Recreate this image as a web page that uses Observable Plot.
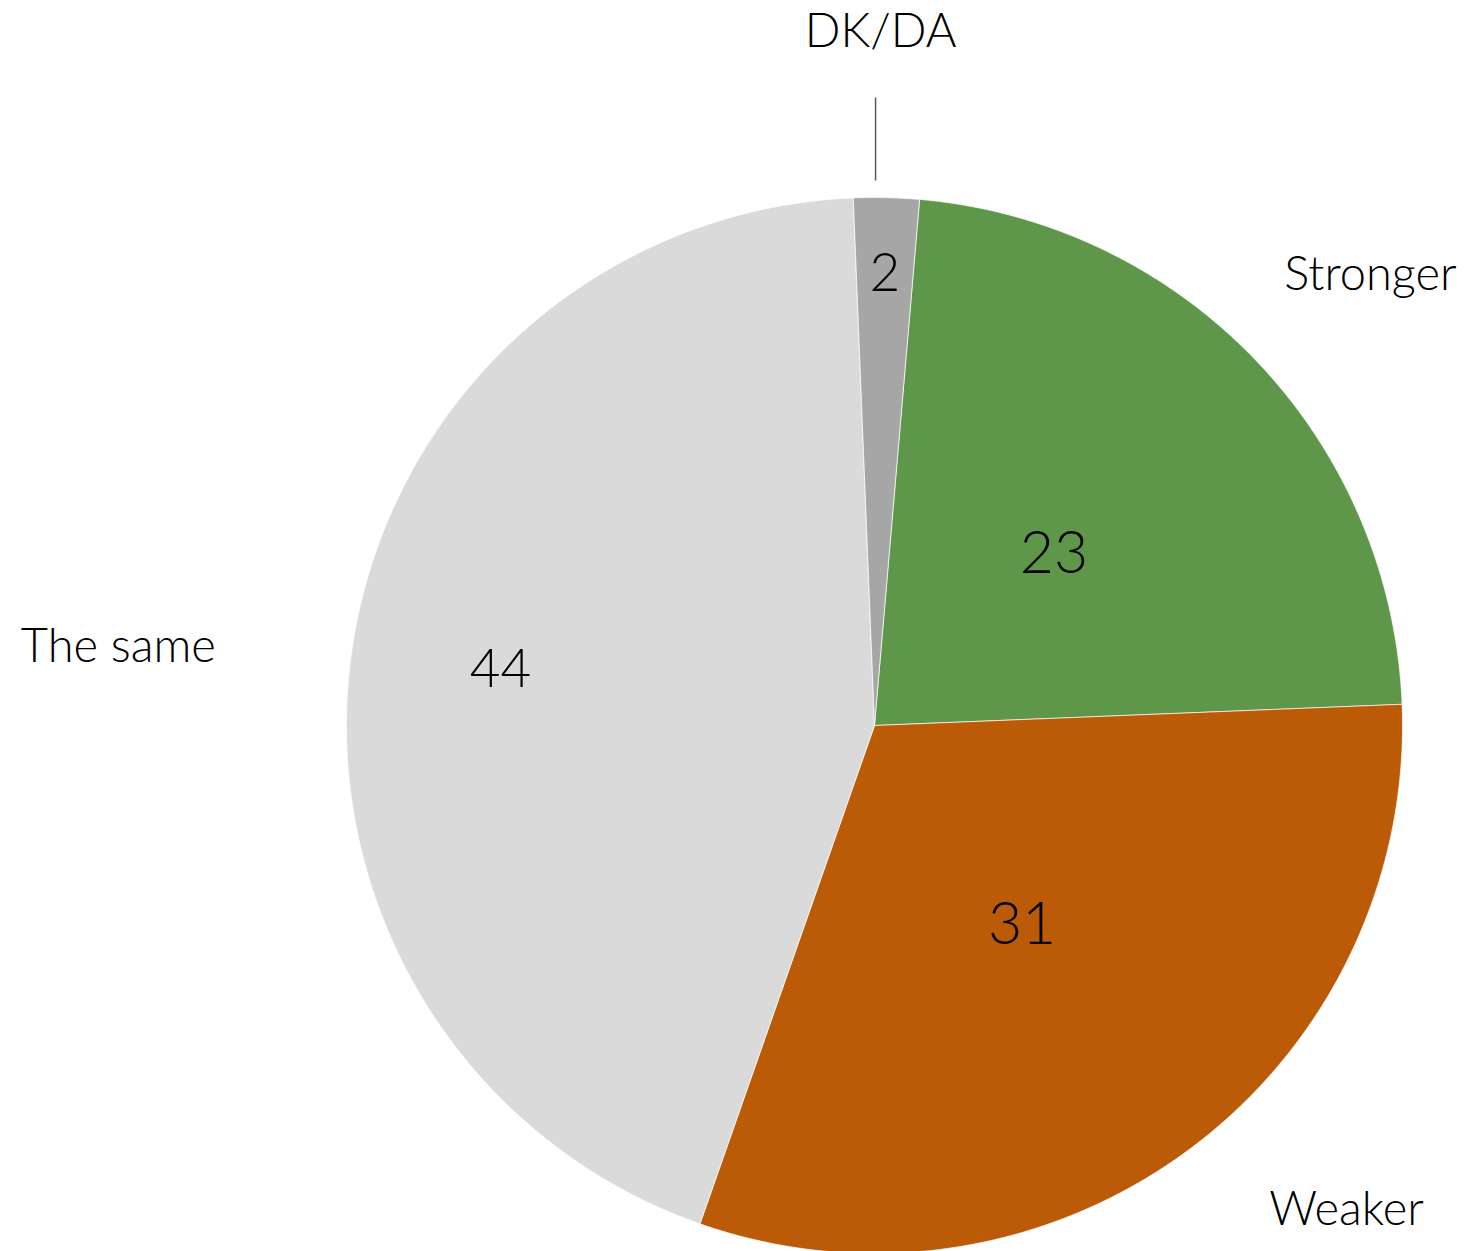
<!DOCTYPE html>
<html>
<head>
<meta charset="utf-8">
<script src="https://cdn.jsdelivr.net/npm/d3@7"></script>
<script src="https://cdn.jsdelivr.net/npm/@observablehq/plot@0.6"></script>
<style>
  html, body { margin: 0; padding: 0; background: #fff; }
  #chart svg { display: block; }
</style>
</head>
<body>
<div id="chart"></div>
<script>
// ---- data ----
const categories = ["Stronger", "Weaker", "The same", "DK/DA"];
const values = [23, 31, 44, 2];
const colors = ["#5f974a", "#bb5a07", "#dadada", "#a6a6a6"];

// ---- layout (not data) ----
const W = 1468, H = 1251;
const cx = 874, cy = 725, R = 528;          // pixel centre and radius
const startDeg = 4.9;                        // first slice start angle (clockwise from top)
const valueLabelRadius = [0.47, 0.47, 0.716, 0.856];
const valueLabelSize = [59, 59, 53, 53];
// category labels: [angle deg, radius fraction]
const catLabelPolar = [[47.7, 1.27], [135.7, 1.28], [276.0, 1.44], [0.5, 1.315]];

const total = d3.sum(values);
const rad = d => d * Math.PI / 180;
const px = (a, r) => r * Math.sin(a);
const py = (a, r) => r * Math.cos(a);

// slices -> polygon points along arcs (geometry derived from values)
let acc = rad(startDeg);
const slices = categories.map((c, i) => {
  const a0 = acc, a1 = acc + values[i] / total * 2 * Math.PI;
  acc = a1;
  return { category: c, value: values[i], color: colors[i], a0, a1, mid: (a0 + a1) / 2 };
});
const arcPoints = slices.flatMap(s => {
  const n = Math.max(4, Math.ceil((s.a1 - s.a0) / rad(0.25)));
  const pts = [{ category: s.category, x: 0, y: 0 }];
  for (let k = 0; k <= n; k++) {
    const a = s.a0 + (s.a1 - s.a0) * k / n;
    pts.push({ category: s.category, x: px(a, 1), y: py(a, 1) });
  }
  pts.push({ category: s.category, x: 0, y: 0 });
  return pts;
});

const valueLabels = slices.map((s, i) => ({
  text: String(s.value), x: px(s.mid, valueLabelRadius[i]), y: py(s.mid, valueLabelRadius[i]), size: valueLabelSize[i]
}));
const catLabels = slices.map((s, i) => ({
  text: s.category, x: px(rad(catLabelPolar[i][0]), catLabelPolar[i][1]), y: py(rad(catLabelPolar[i][0]), catLabelPolar[i][1])
}));

const xDomain = [-cx / R, (W - cx) / R];
const yDomain = [-(H - cy) / R, cy / R];

const font = "Lato, 'Noto Sans', sans-serif";

const chart = Plot.plot({
  width: W,
  height: H,
  margin: 0,
  x: { domain: xDomain, range: [0, W], axis: null },
  y: { domain: yDomain, range: [H, 0], axis: null },
  color: { domain: categories, range: colors },
  style: { fontFamily: font, background: "#fff" },
  marks: [
    Plot.line(arcPoints, {
      x: "x", y: "y", z: "category", fill: "category",
      stroke: "#fff", strokeWidth: 0.7, curve: "linear-closed"
    }),
    Plot.link([{ x: 0.002, y1: (cy - 97) / R, y2: (cy - 180) / R }], {
      x1: "x", x2: "x", y1: "y1", y2: "y2", stroke: "#595959", strokeWidth: 1.5
    }),
    ...valueLabels.map(d => Plot.text([d], {
      x: "x", y: "y", text: "text", fontSize: d.size, fill: "#000", fontFamily: font, fontWeight: 300
    })),
    Plot.text(catLabels, {
      x: "x", y: "y", text: "text", fontSize: 47, fill: "#000", fontFamily: font, fontWeight: 300, dy: 1
    })
  ]
});
document.getElementById("chart").appendChild(chart);
</script>
</body>
</html>
